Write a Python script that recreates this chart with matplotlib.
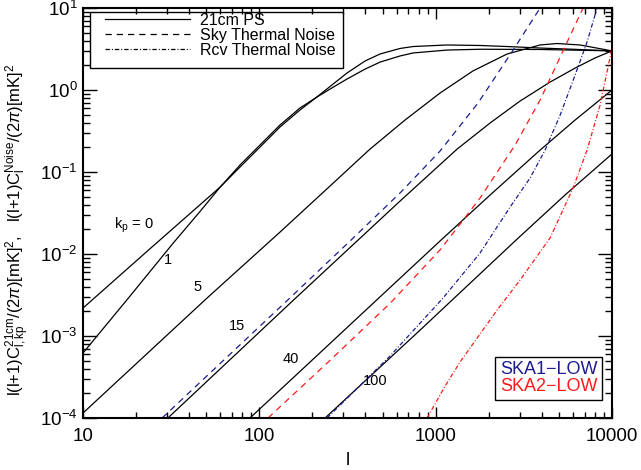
import matplotlib

matplotlib.use("Agg")
import matplotlib.pyplot as plt  # noqa: E402
from matplotlib.lines import Line2D  # noqa: E402
from matplotlib.patches import Rectangle  # noqa: E402
from matplotlib.ticker import FixedLocator, LogLocator, NullFormatter  # noqa: E402

plt.rcParams["font.family"] = ["Liberation Sans", "DejaVu Sans"]
plt.rcParams["mathtext.fontset"] = "custom"
plt.rcParams["mathtext.rm"] = "Liberation Sans"
plt.rcParams["mathtext.it"] = "Liberation Sans:italic"
plt.rcParams["mathtext.bf"] = "Liberation Sans:bold"

# 21cm angular power spectrum, one curve per k_parallel
ps_kp0_l = [10, 24, 40.5, 60, 77.7, 97, 131, 170, 212, 258, 314, 398, 484, 628, 745,
            1161, 1786, 2543, 3911, 6014, 10000]
ps_kp0_v = [0.00219, 0.0116, 0.0312, 0.0656, 0.115, 0.185, 0.354, 0.570, 0.822, 1.15,
            1.61, 2.26, 2.75, 3.21, 3.39, 3.54, 3.49, 3.39, 3.25, 3.14, 3.0]
ps_kp1_l = [10, 17.8, 32.4, 46.1, 60, 77.7, 97, 131, 170, 212, 258, 314, 398, 484, 628,
            745, 1161, 1786, 3911, 10000]
ps_kp1_v = [0.00062, 0.00278, 0.0135, 0.033, 0.0656, 0.1216, 0.196, 0.374, 0.603, 0.82,
            1.06, 1.36, 1.80, 2.19, 2.60, 2.83, 3.07, 3.14, 3.12, 3.0]
ps_kp5_l = [10, 50.5, 131, 252, 424, 670, 1059, 1629, 2543, 3911, 4885, 6590, 10000]
ps_kp5_v = [0.000115, 0.0029, 0.0185, 0.0676, 0.19, 0.43, 0.919, 1.71, 2.75, 3.54, 3.69,
            3.54, 3.0]
ps_kp15_l = [30.3, 155, 628, 1322, 2036, 3012, 4456, 6175, 8018, 10000]
ps_kp15_v = [0.0001, 0.0027, 0.0442, 0.19, 0.396, 0.734, 1.25, 1.85, 2.46, 3.0]
ps_kp40_l = [88.5, 1073, 2036, 3911, 6175, 10000]
ps_kp40_v = [0.0001, 0.0148, 0.0524, 0.185, 0.43, 1.0]
ps_kp100_l = [236, 816, 2858, 5420, 10000]
ps_kp100_v = [0.0001, 0.00118, 0.0148, 0.0525, 0.166]

# thermal noise
sky1_l = [28.1, 145, 327, 628, 1059, 1739, 2750, 3911]
sky1_v = [0.0001, 0.00275, 0.0144, 0.0555, 0.180, 0.694, 3.07, 10]
sky2_l = [112, 252, 551, 1059, 1507, 1786, 2821, 3911, 5081, 6853]
sky2_v = [0.0001, 0.000506, 0.0025, 0.0112, 0.0299, 0.0482, 0.213, 0.755, 2.52, 10]
rcv1_l = [242, 551, 1102, 1786, 2644, 3430, 4174, 5081, 6175, 7221, 8229]
rcv1_v = [0.0001, 0.00057, 0.00291, 0.0103, 0.0374, 0.0845, 0.185, 0.495, 1.52, 3.85, 10]
rcv2_l = [894, 1131, 1375, 1786, 2230, 3012, 4456, 6014, 7221, 8563, 10000]
rcv2_v = [0.0001, 0.000245, 0.000482, 0.00106, 0.00207, 0.00482, 0.0157, 0.0638, 0.185,
          0.656, 3.25]

kp_labels = [r"k$_{\rm p}$ = 0", "1", "5", "15", "40", "100"]
kp_label_l = [19.5, 30.3, 44.9, 74.7, 151, 453]
kp_label_v = [0.0226, 0.00845, 0.00396, 0.00132, 0.000525, 0.000282]

NAVY = "#1c1c8e"
RED = "#ff1a1a"
LW = 0.9
DASH = (0, (5, 4))
DASHDOT = (0, (3.5, 1.6, 0.8, 1.6))

fig = plt.figure(figsize=(6.41, 4.70), dpi=100)
ax = fig.add_axes([83 / 641, 52 / 470, 529 / 641, 410 / 470])

for xs, ys in [(ps_kp0_l, ps_kp0_v), (ps_kp1_l, ps_kp1_v), (ps_kp5_l, ps_kp5_v),
               (ps_kp15_l, ps_kp15_v), (ps_kp40_l, ps_kp40_v), (ps_kp100_l, ps_kp100_v)]:
    ax.plot(xs, ys, color="black", lw=LW)

ax.plot(sky1_l, sky1_v, color=NAVY, lw=LW, ls=DASH)
ax.plot(sky2_l, sky2_v, color=RED, lw=LW, ls=DASH)
ax.plot(rcv1_l, rcv1_v, color=NAVY, lw=LW, ls=DASHDOT)
ax.plot(rcv2_l, rcv2_v, color=RED, lw=LW, ls=DASHDOT)

for txt, lx, ly in zip(kp_labels, kp_label_l, kp_label_v):
    ax.text(lx, ly, txt, ha="center", va="center", fontsize=10.5)

ax.set_xscale("log")
ax.set_yscale("log")
ax.set_xlim(10, 10000)
ax.set_ylim(1e-4, 10)

ax.xaxis.set_major_locator(FixedLocator([10, 100, 1000, 10000]))
ax.set_xticklabels(["10", "100", "1000", "10000"])
ax.xaxis.set_minor_locator(LogLocator(base=10, subs=range(2, 10)))
ax.xaxis.set_minor_formatter(NullFormatter())
ax.yaxis.set_major_locator(FixedLocator([1e-4, 1e-3, 1e-2, 1e-1, 1, 10]))
ax.set_yticklabels([r"$10^{-4}$", r"$10^{-3}$", r"$10^{-2}$", r"$10^{-1}$",
                    r"$10^{0}$", r"$10^{1}$"])
ax.yaxis.set_minor_locator(LogLocator(base=10, subs=range(2, 10)))
ax.yaxis.set_minor_formatter(NullFormatter())

ax.tick_params(which="both", direction="in", top=True, right=True, width=1.0,
               labelsize=13.5, colors="black")
ax.tick_params(axis="x", which="major", length=8, pad=7)
ax.tick_params(axis="x", which="minor", length=4)
ax.tick_params(axis="y", which="major", length=10, pad=4)
ax.tick_params(axis="y", which="minor", length=5)
for sp in ax.spines.values():
    sp.set_linewidth(1.5)

ax.set_xlabel("l", fontsize=13)
ax.xaxis.set_label_coords(0.5, -0.083)
ax.set_ylabel(r"l(l+1)C$_{\rm l,kp}^{\rm 21cm}$/(2$\pi$)[mK]$^2$,   "
              r"l(l+1)C$_{\rm l}^{\rm Noise}$/(2$\pi$)[mK]$^2$", fontsize=12)
ax.yaxis.set_label_coords(-0.097, 0.459)

# line-style key
ax.add_patch(Rectangle(((90 - 83) / 529, (418 - 68) / 410), 253 / 529, 56 / 410,
                       transform=ax.transAxes, fill=False, lw=1.0, ec="black", zorder=5))
key = ax.legend(
    handles=[Line2D([], [], color="black", lw=LW),
             Line2D([], [], color="black", lw=LW, ls=DASH),
             Line2D([], [], color="black", lw=LW, ls=DASHDOT)],
    labels=["21cm PS", "Sky Thermal Noise", "Rcv Thermal Noise"],
    loc="upper left", bbox_to_anchor=((105 - 83) / 529, (418 - 13) / 410),
    frameon=False, fontsize=11.5, handlelength=5.3, handletextpad=0.65,
    borderpad=0, borderaxespad=0, labelspacing=0.0,
)
ax.add_artist(key)

# telescope key
tel = ax.legend(
    handles=[Line2D([], [], color="none"), Line2D([], [], color="none")],
    labels=["SKA1\u2212LOW", "SKA2\u2212LOW"],
    labelcolor=[NAVY, RED], loc="lower right",
    bbox_to_anchor=((602 - 83) / 529, (418 - 400) / 410),
    handlelength=0, handletextpad=0, fontsize=13, borderpad=0.25, borderaxespad=0,
    labelspacing=0.0, fancybox=False, edgecolor="black", framealpha=1,
)
tel.get_frame().set_linewidth(1.0)

fig.savefig("out.png", dpi=100)
